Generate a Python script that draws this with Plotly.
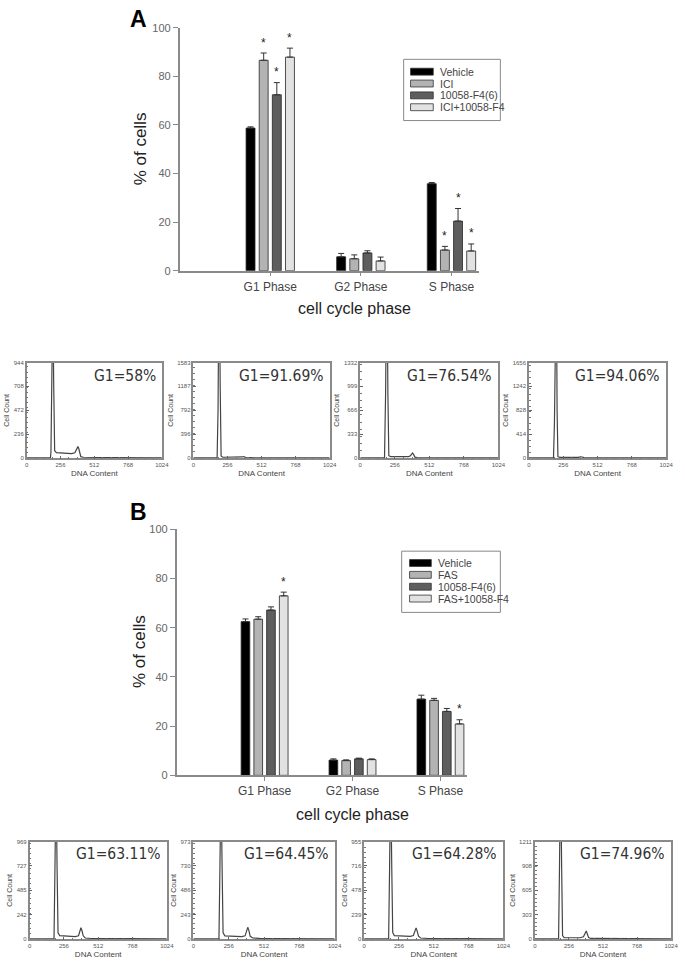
import plotly.graph_objects as go

W, H = 685, 968

# ---------------- data ----------------
phases = ["G1 Phase", "G2 Phase", "S Phase"]
series_A = ["Vehicle", "ICI", "10058-F4(6)", "ICI+10058-F4"]
series_B = ["Vehicle", "FAS", "10058-F4(6)", "FAS+10058-F4"]

# Panel A: % of cells (G1, G2, S) and upper error
A_vehicle = [58.7, 5.7, 35.8]
A_ici = [86.6, 4.9, 8.5]
A_f4 = [72.4, 7.3, 20.4]
A_combo = [87.9, 4.0, 8.1]
A_vehicle_err = [0.5, 1.4, 0.5]
A_ici_err = [3.0, 1.6, 1.5]
A_f4_err = [5.0, 0.9, 5.2]
A_combo_err = [3.7, 1.6, 2.9]
A_sig = [[False, False, False], [True, False, True], [True, False, True], [True, False, True]]

# Panel B
B_vehicle = [62.5, 6.2, 31.0]
B_fas = [63.5, 6.0, 30.5]
B_f4 = [67.2, 6.7, 26.0]
B_combo = [73.0, 6.4, 20.9]
B_vehicle_err = [1.1, 0.5, 1.6]
B_fas_err = [1.0, 0.3, 0.8]
B_f4_err = [1.3, 0.3, 1.2]
B_combo_err = [1.5, 0.3, 1.7]
B_sig = [[False, False, False], [False, False, False], [False, False, False], [True, False, True]]

# Histograms (DNA content vs cell count)
hA1_x = [0, 180, 184, 191, 198, 205, 212, 225, 260, 300, 340, 365, 375, 383, 388, 394, 402, 410, 430, 480, 560, 640, 1024]
hA1_y = [0, 0, 60, 900, 1600, 700, 70, 52, 48, 44, 42, 50, 75, 100, 111, 95, 40, 12, 6, 4, 5, 2, 0]
hA2_x = [0, 178, 185, 193, 201, 208, 220, 300, 360, 370, 378, 386, 395, 420, 1024]
hA2_y = [0, 0, 800, 3500, 1200, 30, 10, 8, 9, 15, 22, 15, 6, 2, 0]
hA3_x = [0, 180, 188, 197, 205, 212, 225, 300, 360, 372, 380, 388, 396, 405, 420, 1024]
hA3_y = [0, 0, 900, 2800, 900, 30, 18, 15, 17, 30, 55, 68, 45, 10, 3, 0]
hA4_x = [0, 183, 190, 198, 204, 210, 216, 230, 300, 370, 382, 390, 398, 410, 1024]
hA4_y = [0, 0, 600, 3000, 3200, 800, 20, 8, 5, 8, 18, 22, 15, 4, 0]
hB1_x = [0, 182, 189, 197, 205, 212, 225, 280, 340, 365, 375, 383, 391, 400, 415, 450, 1024]
hB1_y = [0, 0, 700, 1600, 700, 60, 32, 25, 22, 30, 70, 110, 80, 30, 8, 4, 0]
hB2_x = [0, 185, 192, 200, 208, 215, 228, 290, 350, 375, 386, 394, 402, 412, 430, 480, 600, 1024]
hB2_y = [0, 0, 700, 1600, 700, 60, 30, 24, 22, 30, 80, 115, 85, 25, 8, 4, 2, 0]
hB3_x = [0, 180, 187, 195, 203, 210, 222, 280, 340, 362, 372, 382, 390, 400, 415, 460, 1024]
hB3_y = [0, 0, 700, 1600, 700, 60, 32, 26, 24, 32, 75, 107, 75, 25, 8, 4, 0]
hB4_x = [0, 178, 185, 193, 201, 208, 220, 280, 340, 365, 377, 386, 394, 404, 420, 1024]
hB4_y = [0, 0, 900, 2200, 900, 40, 15, 12, 13, 25, 65, 98, 60, 15, 4, 0]

hA1_ticks = [0, 236, 472, 708, 944]
hA2_ticks = [0, 396, 792, 1187, 1583]
hA3_ticks = [0, 333, 666, 999, 1332]
hA4_ticks = [0, 414, 828, 1242, 1656]
hB1_ticks = [0, 242, 485, 727, 969]
hB2_ticks = [0, 243, 486, 730, 973]
hB3_ticks = [0, 239, 478, 716, 955]
hB4_ticks = [0, 303, 605, 908, 1211]
dna_ticks = [0, 256, 512, 768, 1024]

g1_A = ["G1=58%", "G1=91.69%", "G1=76.54%", "G1=94.06%"]
g1_B = ["G1=63.11%", "G1=64.45%", "G1=64.28%", "G1=74.96%"]

# ---------------- styling ----------------
colors = ["#000000", "#b3b3b3", "#5e5e5e", "#e2e2e2"]
FONT = "Liberation Sans, Arial, sans-serif"
G1FONT = "DejaVu Sans Condensed, DejaVu Sans, sans-serif"
BARGAP = 0.42
BARGROUPGAP = 0.32
AXC = "#8a8a8a"


def px_x(p):
    return p / W


def px_y(p):
    return 1 - p / H


fig = go.Figure()
layout = dict(
    width=W, height=H, margin=dict(l=0, r=0, t=0, b=0),
    paper_bgcolor="white", plot_bgcolor="white",
    barmode="group", bargap=BARGAP, bargroupgap=BARGROUPGAP,
    font=dict(family=FONT, color="#444"),
    showlegend=False,
)
annotations = []
shapes = []

bar_panels = [
    ("", [A_vehicle, A_ici, A_f4, A_combo], [A_vehicle_err, A_ici_err, A_f4_err, A_combo_err], A_sig,
     series_A, (180, 483), (268, 22), (407, 505, 54, 116, 414, 437, 442, [66.5, 78.5, 90.5, 102.5]),
     (140, 145), (357, 306), ("A", 138, 13.5)),
    ("2", [B_vehicle, B_fas, B_f4, B_combo], [B_vehicle_err, B_fas_err, B_f4_err, B_combo_err], B_sig,
     series_B, (177, 471), (779, 530), (405, 505, 552, 614, 413, 435, 440, [564, 576, 588, 600]),
     (140, 654), (355, 819), ("B", 138, 512)),
]

for (ax, vals, errs, sigs, names, xd, yd, leg, ylab, xlab, letter) in bar_panels:
    for i in range(4):
        fig.add_trace(go.Bar(
            x=[0, 1, 2], y=vals[i], name=names[i],
            xaxis="x" + ax, yaxis="y" + ax,
            marker=dict(color=colors[i], line=dict(color="#262626", width=0.8)),
            error_y=dict(type="data", array=errs[i], arrayminus=[0, 0, 0], symmetric=False,
                         color="#333", thickness=1, width=3),
        ))
        slot = (1 - BARGAP) / 4
        off = -(1 - BARGAP) / 2 + slot * (i + 0.5)
        for j in range(3):
            if sigs[i][j]:
                annotations.append(dict(
                    x=j + off, y=vals[i][j] + errs[i][j] + 0.6, xref="x" + ax, yref="y" + ax,
                    text="*", showarrow=False, yanchor="bottom", xanchor="center",
                    font=dict(size=12, color="#222", family=FONT)))
    layout["xaxis" + ax] = dict(
        domain=[px_x(xd[0]), px_x(xd[1])], anchor="y" + ax, range=[-1, 2.3],
        tickvals=[0, 1, 2], ticktext=phases, showline=True, linecolor=AXC, linewidth=1.5,
        ticks="outside", ticklen=4, tickcolor=AXC, showgrid=False, zeroline=False,
        tickfont=dict(size=12, color="#444", family=FONT), fixedrange=True)
    layout["yaxis" + ax] = dict(
        domain=[px_y(yd[0]), px_y(yd[1])], anchor="x" + ax, range=[0, 100], dtick=20,
        showline=True, linecolor=AXC, linewidth=1.5, ticks="outside", ticklen=5, tickcolor=AXC,
        showgrid=False, zeroline=False, tickfont=dict(size=11, color="#666", family=FONT),
        fixedrange=True)
    # legend (drawn as a box with swatches and labels)
    bx0, bx1, by0, by1, sx0, sx1, tx, rows = leg
    shapes.append(dict(type="rect", xref="paper", yref="paper",
                       x0=px_x(bx0), x1=px_x(bx1), y0=px_y(by1), y1=px_y(by0),
                       line=dict(color="#888", width=1), fillcolor="white", layer="above"))
    for i in range(4):
        shapes.append(dict(type="rect", xref="paper", yref="paper",
                           x0=px_x(sx0), x1=px_x(sx1), y0=px_y(rows[i] + 3.5), y1=px_y(rows[i] - 3.5),
                           line=dict(color="#333", width=0.8), fillcolor=colors[i], layer="above"))
        annotations.append(dict(x=px_x(tx), y=px_y(rows[i]), xref="paper", yref="paper",
                                text=names[i], showarrow=False, xanchor="left", yanchor="middle",
                                font=dict(size=10.5, color="#444", family=FONT)))
    annotations.append(dict(x=px_x(ylab[0]), y=px_y(ylab[1]), xref="paper", yref="paper",
                            text="% of cells", textangle=-90, showarrow=False,
                            xanchor="center", yanchor="middle",
                            font=dict(size=17, color="#222", family=FONT)))
    annotations.append(dict(x=px_x(xlab[0]), y=px_y(xlab[1]), xref="paper", yref="paper",
                            text="cell cycle phase", showarrow=False,
                            xanchor="center", yanchor="middle",
                            font=dict(size=16, color="#222", family=FONT)))
    annotations.append(dict(x=px_x(letter[1]), y=px_y(letter[2]), xref="paper", yref="paper",
                            text="<b>" + letter[0] + "</b>", showarrow=False,
                            xanchor="center", yanchor="middle",
                            font=dict(size=23, color="#000", family=FONT)))

hists = [
    (hA1_x, hA1_y, hA1_ticks, g1_A[0], (25, 162), (458, 361)),
    (hA2_x, hA2_y, hA2_ticks, g1_A[1], (194, 332), (458, 361)),
    (hA3_x, hA3_y, hA3_ticks, g1_A[2], (363, 503), (458, 361)),
    (hA4_x, hA4_y, hA4_ticks, g1_A[3], (534, 673), (458, 361)),
    (hB1_x, hB1_y, hB1_ticks, g1_B[0], (28, 167), (945, 846)),
    (hB2_x, hB2_y, hB2_ticks, g1_B[1], (194, 337), (945, 846)),
    (hB3_x, hB3_y, hB3_ticks, g1_B[2], (367, 508), (945, 846)),
    (hB4_x, hB4_y, hB4_ticks, g1_B[3], (540, 678), (945, 846)),
]

for k, (hx, hy, yt, lab, xd, yd) in enumerate(hists):
    n = str(k + 3)
    fig.add_trace(go.Scatter(x=hx, y=hy, mode="lines", line=dict(color="#444", width=1.2),
                             xaxis="x" + n, yaxis="y" + n, showlegend=False, hoverinfo="skip"))
    layout["xaxis" + n] = dict(
        domain=[px_x(xd[0]), px_x(xd[1])], anchor="y" + n, range=[0, 1024],
        tickvals=dna_ticks, showline=True, mirror=True, linecolor=AXC, linewidth=1.5,
        ticks="inside", ticklen=3, tickcolor="#666", showgrid=False, zeroline=False,
        minor=dict(ticks="inside", ticklen=2, dtick=64, tickcolor="#777"),
        tickfont=dict(size=6, color="#555", family=FONT),
        title=dict(text="DNA Content", font=dict(size=8, color="#444", family=FONT), standoff=3),
        fixedrange=True)
    layout["yaxis" + n] = dict(
        domain=[px_y(yd[0]), px_y(yd[1])], anchor="x" + n, range=[-yt[-1] * 0.005, yt[-1]],
        tickvals=yt, showline=True, mirror=True, linecolor=AXC, linewidth=1.5,
        ticks="inside", ticklen=3, tickcolor="#666", showgrid=False, zeroline=False,
        minor=dict(ticks="inside", ticklen=2, nticks=5, tickcolor="#777"),
        tickfont=dict(size=6, color="#555", family=FONT),
        title=dict(text="Cell Count", font=dict(size=7, color="#444", family=FONT), standoff=3),
        fixedrange=True)
    annotations.append(dict(x=px_x(xd[1] - 4), y=px_y(yd[1] + 2), xref="paper", yref="paper",
                            text=lab, showarrow=False, xanchor="right", yanchor="top",
                            font=dict(size=15.5, color="#333", family=G1FONT)))

layout["annotations"] = annotations
layout["shapes"] = shapes
fig.update_layout(**layout)

fig.write_html("out.html", config={"displayModeBar": False},
               post_script="document.body.style.margin='0';document.body.style.overflow='hidden';")
